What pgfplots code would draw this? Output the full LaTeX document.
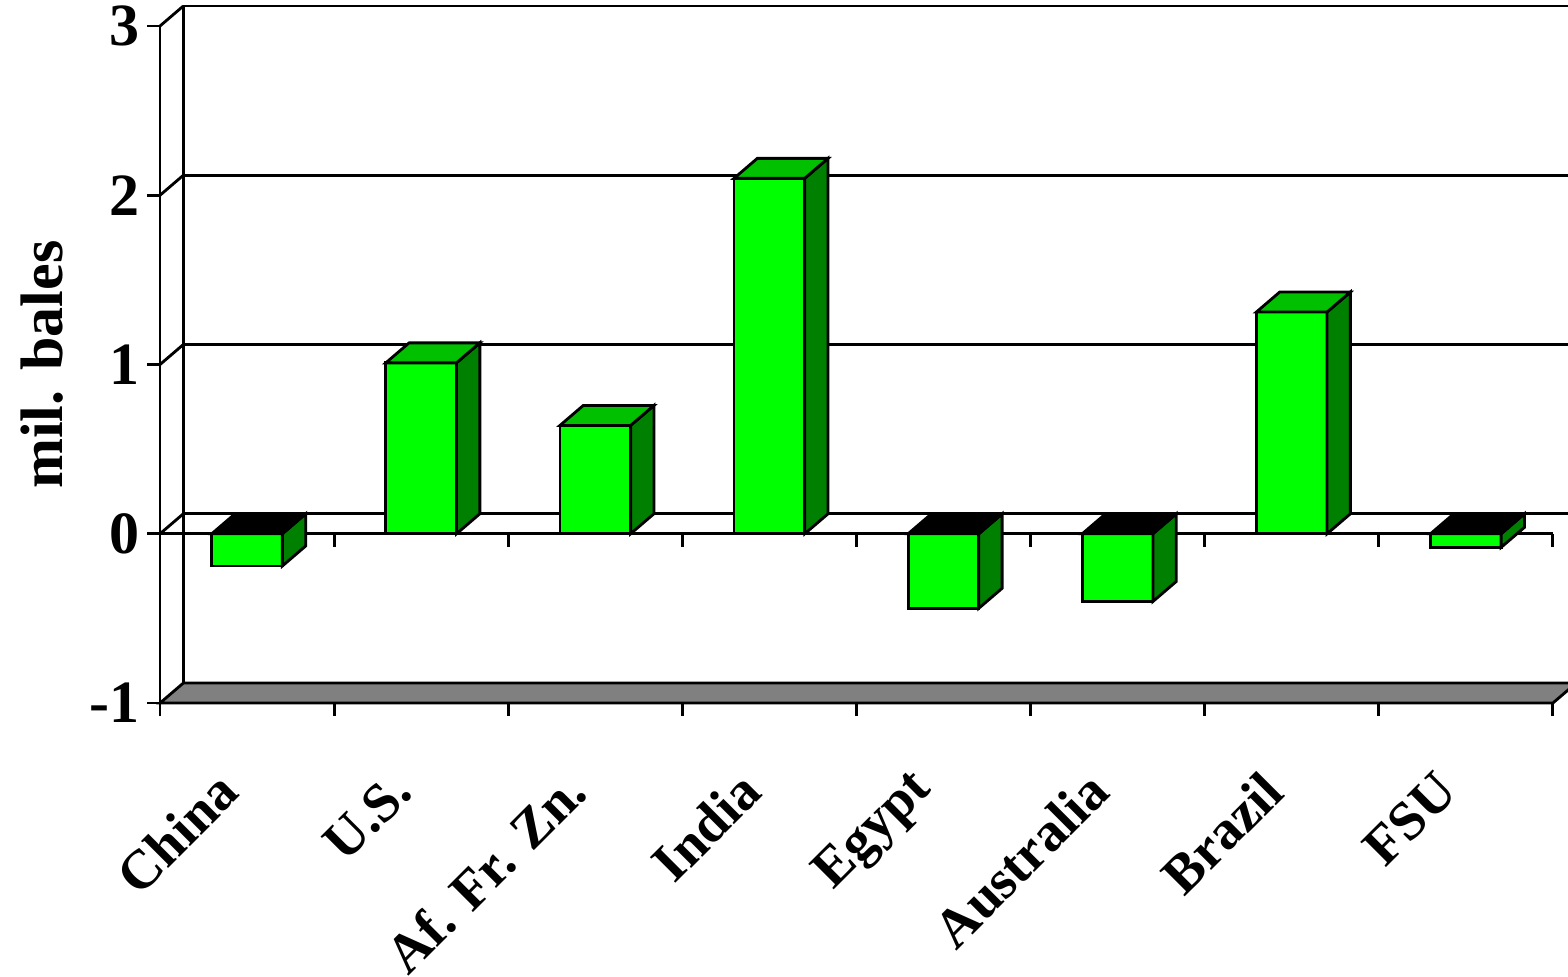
\documentclass[border=0pt]{standalone}
\usepackage{pgfplots}
\pgfplotsset{compat=1.18}
\usepackage{pgfplotstable}
\usepackage{fontspec}
\setmainfont{Liberation Serif}

\definecolor{barfront}{RGB}{0,255,0}
\definecolor{bartop}{RGB}{0,192,0}
\definecolor{barside}{RGB}{0,128,0}
\definecolor{floorgrey}{RGB}{128,128,128}

% change in stocks, million bales
\pgfplotstableread{
x v
0 -0.19
1 1.01
2 0.64
3 2.10
4 -0.44
5 -0.40
6 1.31
7 -0.08
}\stocks

% depth of the 3-D box (canvas units)
\newcommand\depthx{7pt}
\newcommand\depthy{6pt}

% a bar drawn as a box: the mark sits at the data value, the box reaches down
% (or up) to the zero level, 50.775pt per unit on the y axis
\pgfdeclareplotmark{box3d}{%
  \pgfmathsetlengthmacro\zy{-(\barval)*50.775}%
  \pgfmathsetlengthmacro\zyd{\zy+6}%
  \pgfmathsetlengthmacro\ty{max(0,\zy)}%
  \pgfmathsetlengthmacro\tyd{\ty+6}%
  \pgfmathsetlengthmacro\xl{-10.6}%
  \pgfmathsetlengthmacro\xr{10.6}%
  \pgfmathsetlengthmacro\xld{-10.6+7}%
  \pgfmathsetlengthmacro\xrd{10.6+7}%
  \pgfsetlinewidth{0.85pt}%
  \pgfsetstrokecolor{black}%
  % front face
  \pgfpathmoveto{\pgfqpoint{\xl}{0pt}}%
  \pgfpathlineto{\pgfqpoint{\xr}{0pt}}%
  \pgfpathlineto{\pgfqpoint{\xr}{\zy}}%
  \pgfpathlineto{\pgfqpoint{\xl}{\zy}}%
  \pgfpathclose
  \pgfsetfillcolor{barfront}%
  \pgfusepath{fill,stroke}%
  % side face
  \pgfpathmoveto{\pgfqpoint{\xr}{0pt}}%
  \pgfpathlineto{\pgfqpoint{\xr}{\zy}}%
  \pgfpathlineto{\pgfqpoint{\xrd}{\zyd}}%
  \pgfpathlineto{\pgfqpoint{\xrd}{6pt}}%
  \pgfpathclose
  \pgfsetfillcolor{barside}%
  \pgfusepath{fill,stroke}%
  % top face, black where the bar hangs below zero
  \pgfpathmoveto{\pgfqpoint{\xl}{\ty}}%
  \pgfpathlineto{\pgfqpoint{\xr}{\ty}}%
  \pgfpathlineto{\pgfqpoint{\xrd}{\tyd}}%
  \pgfpathlineto{\pgfqpoint{\xld}{\tyd}}%
  \pgfpathclose
  \ifdim\zy>0pt \pgfsetfillcolor{black}\else\pgfsetfillcolor{bartop}\fi
  \pgfusepath{fill,stroke}%
}

\begin{document}
\begin{tikzpicture}
\begin{axis}[
  x=52.23pt, y=50.775pt,
  xmin=-0.5, xmax=7.5, ymin=-1, ymax=3,
  clip=false,
  axis lines=left,
  axis line style={-, line width=0.85pt},
  tick align=outside,
  major tick length=3.9pt,
  ytick={-1,0,1,2,3},
  yticklabels={-1,0,1,2,3},
  ytick style={black, line width=0.85pt},
  xtick={0,...,7},
  xticklabels={China,U.S.,Af. Fr. Zn.,India,Egypt,Australia,Brazil,FSU},
  xtick style={draw=none},
  yticklabel style={inner sep=2pt, font=\fontsize{18}{18}\selectfont\bfseries},
  xticklabel style={inner sep=0pt, xshift=-5.6pt, rotate=45, anchor=east,
    font=\fontsize{16.5}{16.5}\selectfont\bfseries},
  xticklabel shift=19.7pt,
]
% floor
\filldraw[fill=floorgrey, line width=0.85pt]
  (axis cs:-0.5,-1) -- ([shift={(\depthx,\depthy)}]axis cs:-0.5,-1)
  -- ([shift={(\depthx,\depthy)}]axis cs:7.5,-1) -- (axis cs:7.5,-1) -- cycle;
% back wall and left wall
\draw[line width=0.85pt] ([shift={(\depthx,\depthy)}]axis cs:-0.5,-1)
  -- ([shift={(\depthx,\depthy)}]axis cs:-0.5,3);
\pgfplotsinvokeforeach{0,1,2,3}{
  \draw[line width=0.85pt] ([shift={(\depthx,\depthy)}]axis cs:-0.5,#1)
    -- ([shift={(\depthx,\depthy)}]axis cs:7.5,#1);
  \draw[line width=0.85pt] (axis cs:-0.5,#1) -- ++(\depthx,\depthy);
}
% front zero line with its ticks
\draw[line width=0.85pt] (axis cs:-0.5,0) -- (axis cs:7.5,0);
\pgfplotsinvokeforeach{0.5,1.5,2.5,3.5,4.5,5.5,6.5,7.5}{
  \draw[line width=0.85pt] (axis cs:#1,0) -- ++(0pt,-3.9pt);
}
\pgfplotsinvokeforeach{-0.5,0.5,1.5,2.5,3.5,4.5,5.5,6.5,7.5}{
  \draw[line width=0.85pt] (axis cs:#1,-1) -- ++(0pt,-3.9pt);
}
% bars
\addplot[only marks, mark=box3d,
  visualization depends on={\thisrow{v} \as \barval}]
  table[x=x, y=v] {\stocks};
% axis title
\node[rotate=90, font=\fontsize{18}{18}\selectfont\bfseries]
  at ([xshift=-35.4pt]axis cs:-0.5,1) {mil. bales};
\coordinate (bbsw) at (axis cs:-1.419,-2.613);
\coordinate (bbne) at (axis cs:7.587,3.1536);
\end{axis}
\pgfresetboundingbox
\path[use as bounding box] (bbsw) rectangle (bbne);
\end{tikzpicture}
\end{document}
